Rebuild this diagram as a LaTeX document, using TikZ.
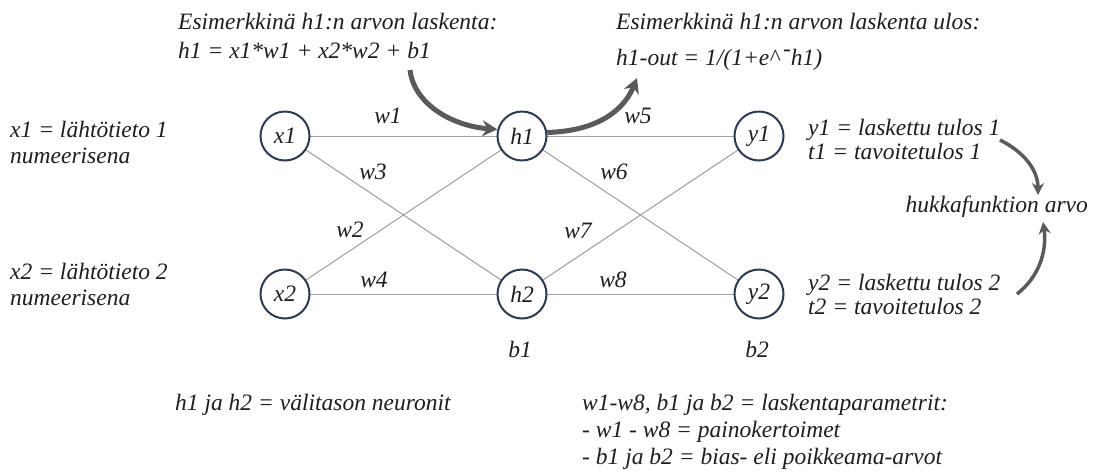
\documentclass[tikz,border=0pt]{standalone}
\usepackage{fontspec}
\setmainfont{Liberation Serif}
\usetikzlibrary{arrows.meta}
\definecolor{txt}{HTML}{1E1E1E}
\definecolor{ring}{HTML}{2E3A52}
\definecolor{wire}{HTML}{A2A2A2}
\definecolor{arr}{HTML}{5A5A5A}
\tikzset{
  lbl/.style={font=\fontsize{23.5}{28}\selectfont\itshape, text=txt, inner sep=0pt, anchor=base west},
  wlbl/.style={font=\fontsize{23.5}{28}\selectfont\itshape, text=txt, inner sep=0pt},
  neuron/.style={circle, draw=ring, line width=2pt, minimum size=49pt, inner sep=0pt, fill=white,
    font=\fontsize{23.5}{28}\selectfont\itshape, text=txt},
  wirestyle/.style={draw=wire, line width=1pt},
  bigarrow/.style={draw=arr, line width=5pt, -{Stealth[length=15pt,width=16pt,inset=5pt]}},
  medarrow/.style={draw=arr, line width=3.5pt, -{Stealth[length=12pt,width=12pt,inset=4pt]}}
}
\begin{document}
\begin{tikzpicture}[x=1pt,y=-1pt]
\useasboundingbox[fill=white] (0,0) rectangle (1101,475);
% wires first
\coordinate (cx1) at (285,136);
\coordinate (cx2) at (285,294);
\coordinate (ch1) at (522,136);
\coordinate (ch2) at (522,294);
\coordinate (cy1) at (759,136);
\coordinate (cy2) at (759,294);
\draw[wirestyle] (cx1) -- (ch1);
\draw[wirestyle] (cx1) -- (ch2);
\draw[wirestyle] (cx2) -- (ch1);
\draw[wirestyle] (cx2) -- (ch2);
\draw[wirestyle] (ch1) -- (cy1);
\draw[wirestyle] (ch1) -- (cy2);
\draw[wirestyle] (ch2) -- (cy1);
\draw[wirestyle] (ch2) -- (cy2);
% neurons
\node[neuron] (x1) at (cx1) {x1};
\node[neuron] (x2) at (cx2) {x2};
\node[neuron] (h1) at (ch1) {h1};
\node[neuron] (h2) at (ch2) {h2};
\node[neuron] (y1) at (cy1) {y1};
\node[neuron] (y2) at (cy2) {y2};
% weights
\node[wlbl] (w1) at (388,116) {w1};
\node[wlbl] (w3) at (373,172) {w3};
\node[wlbl] (w2) at (350,230) {w2};
\node[wlbl] (w4) at (374,280) {w4};
\node[wlbl] (w5) at (638,116) {w5};
\node[wlbl] (w6) at (614,172) {w6};
\node[wlbl] (w7) at (578,231) {w7};
\node[wlbl] (w8) at (613,280) {w8};
\node[wlbl] (b1) at (520,349) {b1};
\node[wlbl] (b2) at (757,349) {b2};
% left texts
\node[lbl] (t1a) at (10,137) {x1 = lähtötieto 1};
\node[lbl] (t1b) at (10,163) {numeerisena};
\node[lbl] (t2a) at (10,279) {x2 = lähtötieto 2};
\node[lbl] (t2b) at (10,305) {numeerisena};
% top texts
\node[lbl] (e1a) at (178,29) {Esimerkkinä h1:n arvon laskenta:};
\node[lbl] (e1b) at (178,58) {h1 = x1*w1 + x2*w2 + b1};
\node[lbl] (e2a) at (616,29) {Esimerkkinä h1:n arvon laskenta ulos:};
\node[lbl] (e2b) at (616,65) {h1-out = 1/(1+e\textasciicircum\,\raisebox{0.35em}{-}h1)};
% right texts
\node[lbl] (r1a) at (808,135) {y1 = laskettu tulos 1};
\node[lbl] (r1b) at (808,159) {t1 = tavoitetulos 1};
\node[lbl, anchor=base east] (hk) at (1088,212) {hukkafunktion arvo};
\node[lbl] (r2a) at (808,290) {y2 = laskettu tulos 2};
\node[lbl] (r2b) at (808,314) {t2 = tavoitetulos 2};
% bottom texts
\node[lbl] (bl) at (175,410) {h1 ja h2 = välitason neuronit};
\node[lbl] (br1) at (582,410) {w1-w8, b1 ja b2 = laskentaparametrit:};
\node[lbl] (br2) at (582,437) {- w1 - w8 = painokertoimet};
\node[lbl] (br3) at (582,464) {- b1 ja b2 = bias- eli poikkeama-arvot};
% arrows
\coordinate (a1s) at (410,70);
\coordinate (a2e) at (637,78);
\coordinate (a3s) at (1000,140);
\coordinate (a3e) at (1038,195);
\coordinate (a4s) at (1017,294);
\coordinate (a4e) at (1043,222);
\draw[bigarrow] (a1s) .. controls (414,104) and (452,126) .. (h1.165);
\draw[bigarrow] (h1.8) .. controls (598,131) and (624,110) .. (a2e);
\draw[medarrow] (a3s) .. controls (1024,152) and (1038,170) .. (a3e);
\draw[medarrow] (a4s) .. controls (1040,276) and (1047,250) .. (a4e);
\end{tikzpicture}
\end{document}
